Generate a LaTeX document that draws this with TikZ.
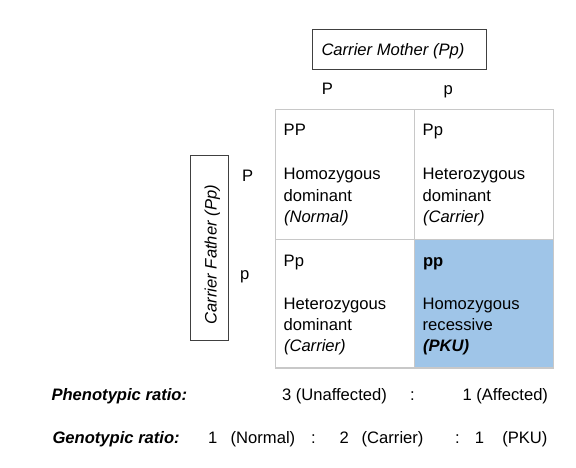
\documentclass[tikz,border=0pt]{standalone}
\usepackage{fontspec}
\setmainfont{Liberation Sans}
\definecolor{gridgray}{HTML}{C8C8C8}
\definecolor{boxgray}{HTML}{404040}
\definecolor{pkublue}{HTML}{9FC5E8}
\begin{document}
\begin{tikzpicture}[x=1pt,y=-1pt,
  every node/.style={font=\fontsize{16.6}{21.3}\selectfont, inner sep=0pt, outer sep=0pt},
  tl/.style={anchor=base west},
  tc/.style={anchor=base},
  cell/.style={draw=gridgray, line width=1.3pt, rectangle},
  parent/.style={draw=boxgray, line width=0.9pt, rectangle}]
\useasboundingbox (0,0) rectangle (576,468);
% grid cells
\node[cell, minimum width=139pt, minimum height=130pt] (c11) at (345,174.3) {};
\node[cell, minimum width=139pt, minimum height=130pt] (c12) at (484,174.3) {};
\node[cell, minimum width=139pt, minimum height=128.7pt] (c21) at (345,303.7) {};
\node[cell, fill=pkublue, minimum width=139pt, minimum height=128.7pt] (c22) at (484,303.7) {};
% parents
\node[parent, minimum width=173.3pt, minimum height=40pt] (mother) at (399.3,49.3) {};
\node[tl] (mothertext) at (321.5,56) {\itshape Carrier Mother (Pp)};
\node[parent, minimum width=38.3pt, minimum height=184.3pt] (father) at (209.2,247.9) {};
\node[anchor=base, rotate=90] (fathertext) at (216.7,254.7) {\itshape Carrier Father (Pp)};
% allele labels
\node[tc] (mP) at (327.5,95) {P};
\node[tc] (mp) at (448.3,95) {p};
\node[tl] (fP) at (242,181.7) {P};
\node[tl] (fp) at (240,279.3) {p};
% cell 11
\node[tl] (a1) at (283.7,135.5) {PP};
\node[tl] (a2) at (283.7,180) {Homozygous};
\node[tl] (a3) at (283.7,201) {dominant};
\node[tl] (a4) at (284,222.5) {\itshape (Normal)};
% cell 12
\node[tl] (b1) at (422.7,135.5) {Pp};
\node[tl] (b2) at (422.7,180) {Heterozygous};
\node[tl] (b3) at (422.7,201) {dominant};
\node[tl] (b4) at (423,222.5) {\itshape (Carrier)};
% cell 21
\node[tl] (d1) at (283.7,266.5) {Pp};
\node[tl] (d2) at (283.7,309.2) {Heterozygous};
\node[tl] (d3) at (283.7,330.2) {dominant};
\node[tl] (d4) at (284,351.7) {\itshape (Carrier)};
% cell 22
\node[tl] (e1) at (423,266.5) {\bfseries pp};
\node[tl] (e2) at (422.7,309.2) {Homozygous};
\node[tl] (e3) at (422.7,330.2) {recessive};
\node[tl] (e4) at (423,351.7) {\bfseries\itshape (PKU)};
% ratios
\node[tl] (ph) at (51.5,400.5) {\bfseries\itshape Phenotypic ratio:};
\node[tl] (ph1) at (282,400.5) {3 (Unaffected)};
\node[tl] (ph2) at (410.2,400.5) {:};
\node[tl] (ph3) at (462.5,400.5) {1 (Affected)};
\node[tl] (ge) at (52.5,443.5) {\bfseries\itshape Genotypic ratio:};
\node[tl] (g1) at (208.2,443.5) {1};
\node[tl] (g2) at (230.7,443.5) {(Normal)};
\node[tl] (g3) at (311.2,443.5) {:};
\node[tl] (g4) at (339.5,443.5) {2};
\node[tl] (g5) at (361.7,443.5) {(Carrier)};
\node[tl] (g6) at (455.2,443.5) {:};
\node[tl] (g7) at (474.9,443.5) {1};
\node[tl] (g8) at (502.3,443.5) {(PKU)};
\end{tikzpicture}
\end{document}
